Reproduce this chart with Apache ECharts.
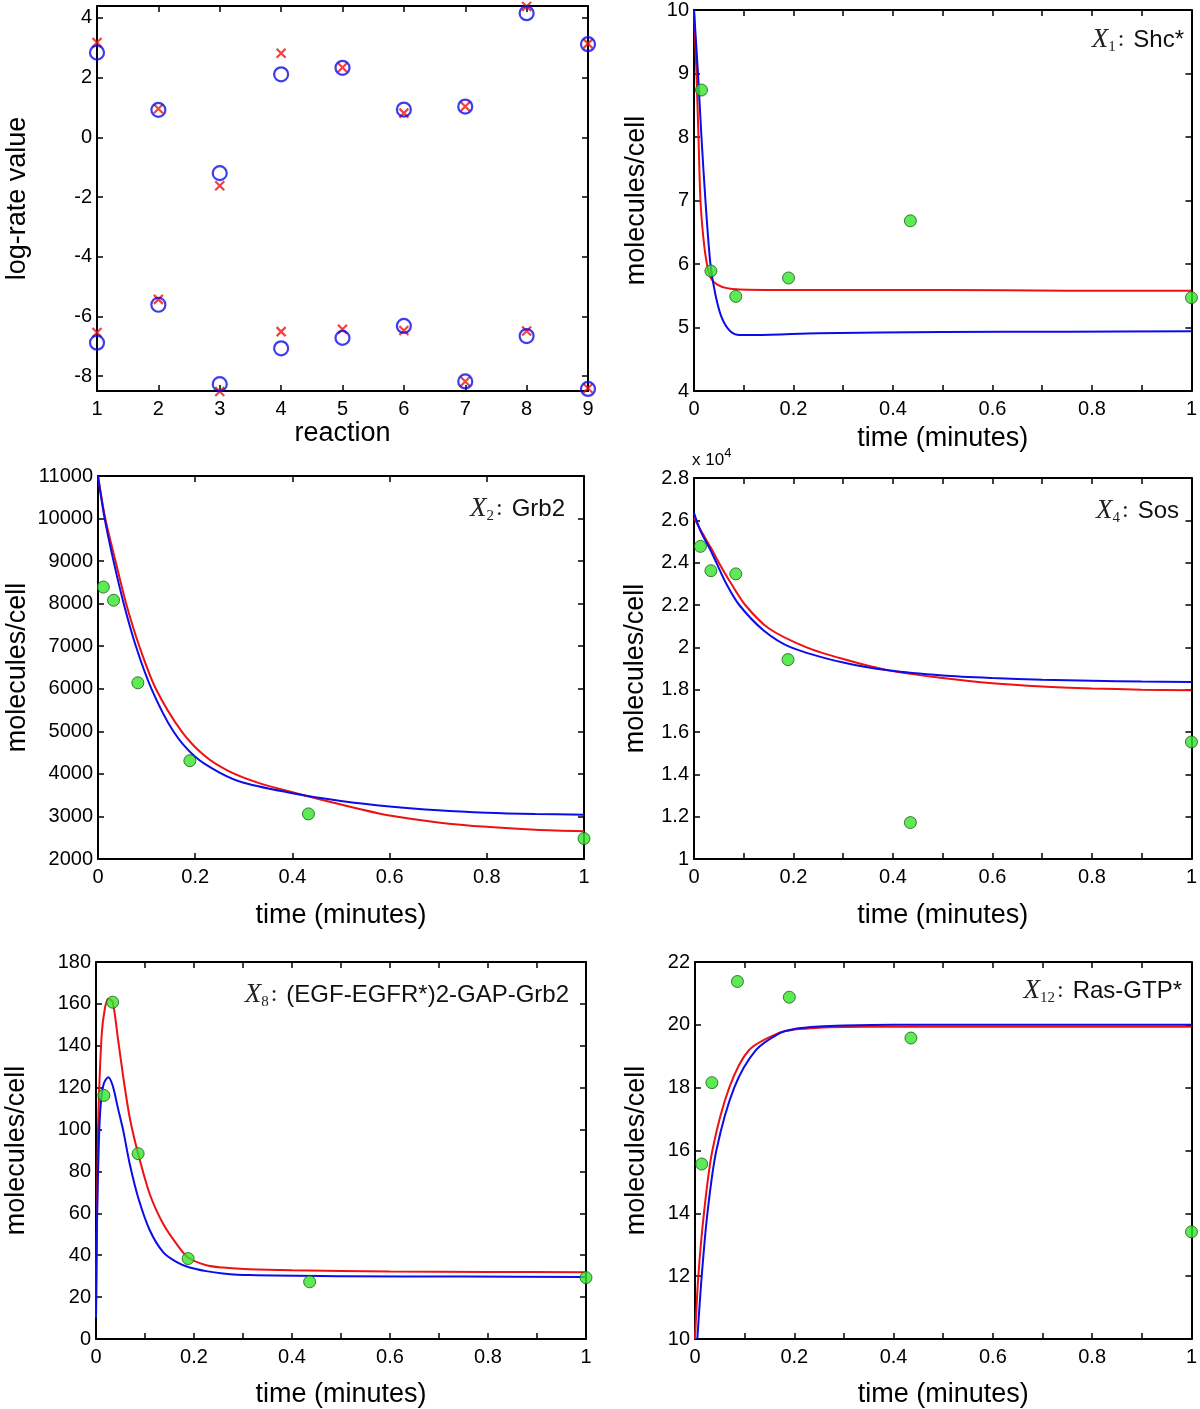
<!DOCTYPE html>
<html>
<head>
<meta charset="utf-8">
<script src="https://cdn.jsdelivr.net/npm/echarts@6/dist/echarts.min.js"></script>
<style>
html,body{margin:0;padding:0;background:#fff;}
#chart{width:1200px;height:1409px;}
</style>
</head>
<body>
<div id="chart"></div>
<script>
// ---------- Panel 1: log-rate values per reaction ----------
const reactions = [1, 2, 3, 4, 5, 6, 7, 8, 9];
const blueUpper = [2.84, 0.92, -1.2, 2.11, 2.33, 0.93, 1.03, 4.16, 3.12];
const redUpper  = [3.18, 0.96, -1.62, 2.82, 2.34, 0.81, 1.03, 4.38, 3.14];
const blueLower = [-6.88, -5.61, -8.27, -7.07, -6.72, -6.32, -8.18, -6.66, -8.43];
const redLower  = [-6.54, -5.43, -8.52, -6.51, -6.43, -6.47, -8.18, -6.49, -8.41];
const p1YTicks = [-8, -6, -4, -2, 0, 2, 4];

// ---------- common time axis ticks ----------
const tTicks10 = [0, 0.1, 0.2, 0.3, 0.4, 0.5, 0.6, 0.7, 0.8, 0.9, 1];
const tLabels  = [0, 0.2, 0.4, 0.6, 0.8, 1];

// ---------- Panel 2: X1 Shc* ----------
const shcDataT = [0.015, 0.034, 0.084, 0.19, 0.435, 1.0];
const shcDataV = [8.74, 5.89, 5.49, 5.78, 6.68, 5.47];
const shcRedT  = [0, 0.0025, 0.005, 0.009, 0.013, 0.019, 0.026, 0.034, 0.046, 0.066, 0.092, 0.25, 0.5, 0.75, 1];
const shcRedV  = [10, 9.5, 9.0, 8.0, 7.0, 6.4, 6.0, 5.78, 5.68, 5.62, 5.6, 5.59, 5.59, 5.58, 5.58];
const shcBlueT = [0, 0.008, 0.015, 0.023, 0.033, 0.043, 0.056, 0.073, 0.092, 0.125, 0.25, 0.5, 0.75, 1];
const shcBlueV = [10, 9.0, 8.0, 7.0, 6.0, 5.52, 5.15, 4.94, 4.88, 4.88, 4.91, 4.93, 4.935, 4.94];
const shcYTicks = [4, 5, 6, 7, 8, 9, 10];

// ---------- Panel 3: X2 Grb2 ----------
const grbDataT = [0.011, 0.032, 0.082, 0.189, 0.433, 1.0];
const grbDataV = [8390, 8080, 6140, 4310, 3060, 2480];
const grbRedT  = [0, 0.015, 0.036, 0.058, 0.085, 0.119, 0.172, 0.22, 0.27, 0.33, 0.4, 0.5, 0.6, 0.7, 0.8, 0.9, 1];
const grbRedV  = [11000, 10000, 9000, 8000, 7000, 6000, 5000, 4420, 4060, 3790, 3570, 3280, 3020, 2860, 2755, 2690, 2655];
const grbBlueT = [0, 0.0137, 0.032, 0.053, 0.078, 0.11, 0.155, 0.2, 0.25, 0.3, 0.4, 0.5, 0.6, 0.7, 0.8, 0.9, 1];
const grbBlueV = [11000, 10000, 9000, 8000, 7000, 6000, 5000, 4400, 4030, 3790, 3545, 3365, 3235, 3145, 3088, 3057, 3040];
const grbYTicks = [2000, 3000, 4000, 5000, 6000, 7000, 8000, 9000, 10000, 11000];

// ---------- Panel 4: X4 Sos (x 10^4) ----------
const sosDataT = [0.013, 0.034, 0.084, 0.189, 0.435, 1.0];
const sosDataV = [2.477, 2.362, 2.347, 1.942, 1.172, 1.553];
const sosRedT  = [0, 0.013, 0.034, 0.05, 0.075, 0.103, 0.15, 0.226, 0.3, 0.394, 0.5, 0.6, 0.7, 0.8, 0.9, 1];
const sosRedV  = [2.612, 2.555, 2.47, 2.4, 2.3, 2.2, 2.09, 2.0, 1.945, 1.89, 1.855, 1.83, 1.815, 1.806, 1.8, 1.797];
const sosBlueT = [0, 0.013, 0.034, 0.045, 0.065, 0.091, 0.14, 0.195, 0.3, 0.394, 0.5, 0.6, 0.7, 0.8, 0.9, 1];
const sosBlueV = [2.635, 2.55, 2.455, 2.4, 2.3, 2.2, 2.08, 2.0, 1.928, 1.89, 1.867, 1.855, 1.847, 1.842, 1.838, 1.836];
const sosYTicks = [1, 1.2, 1.4, 1.6, 1.8, 2, 2.2, 2.4, 2.6, 2.8];

// ---------- Panel 5: X8 (EGF-EGFR*)2-GAP-Grb2 ----------
const gapDataT = [0.016, 0.034, 0.086, 0.188, 0.436, 1.0];
const gapDataV = [116.3, 160.8, 88.5, 38.4, 27.3, 29.3];
const gapRedT  = [0, 0.002, 0.0047, 0.0115, 0.018, 0.025, 0.034, 0.045, 0.056, 0.069, 0.086, 0.11, 0.137, 0.164, 0.188, 0.225, 0.259, 0.313, 0.4, 0.6, 0.8, 1];
const gapRedV  = [10, 60, 105, 145, 157.7, 162.5, 160.8, 143, 124.5, 105.5, 88.5, 69, 55, 45.5, 38.9, 35.2, 34.1, 33.3, 32.8, 32.2, 32.0, 31.9];
const gapBlueT = [0, 0.002, 0.006, 0.01, 0.016, 0.025, 0.034, 0.045, 0.056, 0.069, 0.086, 0.11, 0.137, 0.164, 0.188, 0.225, 0.259, 0.313, 0.5, 0.75, 1];
const gapBlueV = [10, 55, 95, 113, 122, 125, 121, 110, 99, 83.4, 67.6, 51.8, 41.5, 36.8, 34.4, 32.4, 31.3, 30.5, 30.0, 29.8, 29.6];
const gapYTicks = [0, 20, 40, 60, 80, 100, 120, 140, 160, 180];

// ---------- Panel 6: X12 Ras-GTP* ----------
const rasDataT = [0.0135, 0.034, 0.0855, 0.19, 0.435, 1.0];
const rasDataV = [15.57, 18.16, 21.38, 20.88, 19.58, 13.41];
const rasRedT  = [0, 0.0067, 0.018, 0.035, 0.069, 0.109, 0.17, 0.2, 0.25, 0.3, 0.4, 0.6, 1];
const rasRedV  = [10, 12, 14, 16, 18, 19.2, 19.75, 19.85, 19.91, 19.93, 19.94, 19.94, 19.94];
const rasBlueT = [0.0047, 0.0135, 0.025, 0.043, 0.079, 0.123, 0.17, 0.2, 0.25, 0.3, 0.4, 0.6, 1];
const rasBlueV = [10, 12, 14, 16, 18, 19.2, 19.73, 19.87, 19.95, 19.98, 20, 20, 20];
const rasYTicks = [10, 12, 14, 16, 18, 20, 22];

// ---------------------------------------------------------------
const FONT = '"Liberation Sans", Arial, Helvetica, sans-serif';
const SERIF = '"Liberation Serif", "Times New Roman", serif';
const RED = '#ee1111';
const BLUE = '#0c0ce8';
const GREEN = '#33e52a';

const zip = (a, b) => a.map((v, i) => [v, b[i]]);
const plain = (v) => String(v);

const grids = [];
const xAxes = [];
const yAxes = [];
const series = [];

function panel(g, cfg) {
  const gi = grids.length;
  grids.push({left: g[0], top: g[1], width: g[2], height: g[3], containLabel: false});
  const line = {show: true, onZero: false, lineStyle: {color: '#000', width: 2}};
  const tick = (vals) => ({show: true, inside: true, length: 6, customValues: vals, lineStyle: {color: '#000', width: 1.5}});
  const lab = (vals, extra) => Object.assign({show: true, customValues: vals, fontSize: 20, color: '#000', fontFamily: FONT,
    showMinLabel: true, showMaxLabel: true, formatter: plain}, extra || {});
  const xi = xAxes.length;
  xAxes.push({
    gridIndex: gi, type: 'value', min: cfg.xMin, max: cfg.xMax, position: 'bottom',
    axisLine: line, axisTick: tick(cfg.xTicks), axisLabel: lab(cfg.xLabels, {margin: 8}),
    splitLine: {show: false},
    name: cfg.xName, nameLocation: 'middle', nameGap: cfg.xGap,
    nameTextStyle: {fontSize: 27, color: '#000', fontFamily: FONT}
  });
  xAxes.push({
    gridIndex: gi, type: 'value', min: cfg.xMin, max: cfg.xMax, position: 'top',
    axisLine: line, axisTick: tick(cfg.xTicks), axisLabel: {show: false}, splitLine: {show: false}
  });
  const yi = yAxes.length;
  yAxes.push({
    gridIndex: gi, type: 'value', min: cfg.yMin, max: cfg.yMax, position: 'left',
    axisLine: line, axisTick: tick(cfg.yTicks), axisLabel: lab(cfg.yTicks, {margin: 5}),
    splitLine: {show: false},
    name: cfg.yName, nameLocation: 'middle', nameGap: cfg.yGap, nameRotate: 90,
    nameTextStyle: {fontSize: 27, color: '#000', fontFamily: FONT}
  });
  yAxes.push({
    gridIndex: gi, type: 'value', min: cfg.yMin, max: cfg.yMax, position: 'right',
    axisLine: line, axisTick: tick(cfg.yTicks), axisLabel: {show: false}, splitLine: {show: false}
  });
  return {xi, yi};
}

function curvePanel(ax, redT, redV, blueT, blueV, dT, dV) {
  const base = {type: 'line', xAxisIndex: ax.xi, yAxisIndex: ax.yi, showSymbol: false, symbol: 'none',
    smooth: 0.3, clip: true, silent: true, animation: false};
  series.push(Object.assign({}, base, {data: zip(redT, redV), lineStyle: {color: RED, width: 2}, z: 2}));
  series.push(Object.assign({}, base, {data: zip(blueT, blueV), lineStyle: {color: BLUE, width: 2}, z: 3}));
  series.push({type: 'scatter', xAxisIndex: ax.xi, yAxisIndex: ax.yi, data: zip(dT, dV), symbol: 'circle',
    symbolSize: 12, clip: false, z: 4, animation: false, silent: true,
    itemStyle: {color: GREEN, borderColor: '#1d5a16', borderWidth: 1}});
}

// Panel 1
const a1 = panel([97, 6, 491, 385], {
  xMin: 1, xMax: 9, xTicks: reactions, xLabels: reactions, xName: 'reaction', xGap: 24,
  yMin: -8.5, yMax: 4.4, yTicks: p1YTicks, yName: 'log-rate value', yGap: 66
});
const xMark = 'path://M0,0L10,10M10,0L0,10';
series.push({type: 'scatter', xAxisIndex: a1.xi, yAxisIndex: a1.yi, data: zip(reactions, redUpper).concat(zip(reactions, redLower)),
  symbol: xMark, symbolSize: 9, clip: false, animation: false, silent: true,
  itemStyle: {color: 'rgba(0,0,0,0)', borderColor: RED, borderWidth: 2.2}, z: 3});
series.push({type: 'scatter', xAxisIndex: a1.xi, yAxisIndex: a1.yi, data: zip(reactions, blueUpper).concat(zip(reactions, blueLower)),
  symbol: 'circle', symbolSize: 14, clip: false, animation: false, silent: true,
  itemStyle: {color: 'rgba(0,0,0,0)', borderColor: BLUE, borderWidth: 2.2}, z: 4});

// Panel 2
const a2 = panel([694, 9, 499, 382], {
  xMin: 0, xMax: 1, xTicks: tTicks10, xLabels: tLabels, xName: 'time (minutes)', xGap: 34,
  yMin: 4, yMax: 10, yTicks: shcYTicks, yName: 'molecules/cell', yGap: 44
});
curvePanel(a2, shcRedT, shcRedV, shcBlueT, shcBlueV, shcDataT, shcDataV);

// Panel 3
const a3 = panel([98, 476, 486, 383], {
  xMin: 0, xMax: 1, xTicks: tLabels, xLabels: tLabels, xName: 'time (minutes)', xGap: 43,
  yMin: 2000, yMax: 11000, yTicks: grbYTicks, yName: 'molecules/cell', yGap: 67
});
curvePanel(a3, grbRedT, grbRedV, grbBlueT, grbBlueV, grbDataT, grbDataV);

// Panel 4
const a4 = panel([694, 478, 499, 381], {
  xMin: 0, xMax: 1, xTicks: tTicks10, xLabels: tLabels, xName: 'time (minutes)', xGap: 43,
  yMin: 1, yMax: 2.8, yTicks: sosYTicks, yName: 'molecules/cell', yGap: 45
});
curvePanel(a4, sosRedT, sosRedV, sosBlueT, sosBlueV, sosDataT, sosDataV);

// Panel 5
const a5 = panel([96, 962, 490, 378], {
  xMin: 0, xMax: 1, xTicks: tTicks10, xLabels: tLabels, xName: 'time (minutes)', xGap: 42,
  yMin: 0, yMax: 180, yTicks: gapYTicks, yName: 'molecules/cell', yGap: 66
});
curvePanel(a5, gapRedT, gapRedV, gapBlueT, gapBlueV, gapDataT, gapDataV);

// Panel 6
const a6 = panel([695, 962, 499, 377], {
  xMin: 0, xMax: 1, xTicks: tTicks10, xLabels: tLabels, xName: 'time (minutes)', xGap: 42,
  yMin: 10, yMax: 22, yTicks: rasYTicks, yName: 'molecules/cell', yGap: 45
});
curvePanel(a6, rasRedT, rasRedV, rasBlueT, rasBlueV, rasDataT, rasDataV);

// Panel annotations
const rich = {
  x: {fontFamily: SERIF, fontStyle: 'italic', fontWeight: 'normal', fontSize: 27, color: '#222', lineHeight: 30, verticalAlign: 'middle'},
  s: {fontFamily: SERIF, fontWeight: 'normal', fontSize: 15, color: '#222', lineHeight: 16, verticalAlign: 'bottom'},
  c: {fontFamily: SERIF, fontWeight: 'normal', fontSize: 24, color: '#222', lineHeight: 30, verticalAlign: 'middle', padding: [0, 4, 0, 2]},
  t: {fontFamily: FONT, fontWeight: 'normal', fontSize: 24, color: '#111', lineHeight: 30, verticalAlign: 'middle'}
};
const label = (sub, name, right, top) => ({
  text: '{x|X}{s|' + sub + '}{c|:} {t|' + name + '}', right: right, top: top, padding: 0,
  textStyle: {fontWeight: 'normal', rich: rich}
});
const titles = [
  label('1', 'Shc*', 16, 25),
  label('2', 'Grb2', 635, 494),
  label('4', 'Sos', 21, 496),
  label('8', '(EGF-EGFR*)2-GAP-Grb2', 631, 980),
  label('12', 'Ras-GTP*', 18, 976),
  {text: '{a|x 10}{b|4}', left: 692, top: 447, padding: 0,
   textStyle: {fontWeight: 'normal', rich: {
     a: {fontFamily: FONT, fontWeight: 'normal', fontSize: 17, color: '#000', lineHeight: 22, verticalAlign: 'bottom'},
     b: {fontFamily: FONT, fontWeight: 'normal', fontSize: 13, color: '#000', lineHeight: 12, verticalAlign: 'top'}}}}
];

const chart = echarts.init(document.getElementById('chart'), null, {renderer: 'canvas'});
chart.setOption({
  animation: false,
  backgroundColor: '#fff',
  title: titles,
  grid: grids,
  xAxis: xAxes,
  yAxis: yAxes,
  series: series
});
</script>
</body>
</html>
